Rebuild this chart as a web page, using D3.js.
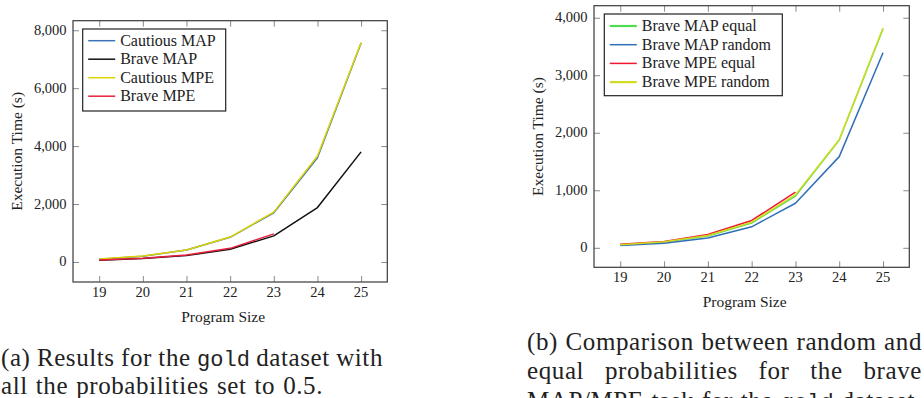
<!DOCTYPE html>
<html>
<head>
<meta charset="utf-8">
<script src="https://cdn.jsdelivr.net/npm/d3@7"></script>
<style>
  html, body { margin: 0; padding: 0; background: #fff; }
  svg { display: block; }
  text { font-family: 'Liberation Serif', 'Times New Roman', serif; fill: #222; }
  .mono { font-family: 'Liberation Mono', 'DejaVu Sans Mono', monospace; }
</style>
</head>
<body>
<div id="app"></div>
<script>
const WIDTH = 924;
const HEIGHT = 398;

// program sizes on the x axis
const sizes = [19, 20, 21, 22, 23, 24, 25];

// (a) gold dataset, all probabilities 0.5
const cautiousMap = [95, 200, 410, 850, 1700, 3600, 7560];
const braveMap = [55, 120, 220, 440, 900, 1880, 3800];
const cautiousMpe = [100, 205, 415, 860, 1720, 3660, 7580];
const braveMpe = [65, 130, 240, 470, 970];
const ticksA = [0, 2000, 4000, 6000, 8000];

// (b) random vs equal probabilities, brave tasks
const braveMapEqual = [50, 100, 205, 430, 900, 1875, 3810];
const braveMapRandom = [40, 80, 170, 365, 775, 1585, 3390];
const braveMpeEqual = [60, 110, 230, 475, 967];
const braveMpeRandom = [55, 105, 215, 445, 920, 1880, 3820];
const ticksB = [0, 1000, 2000, 3000, 4000];

const TICK_LEN = 6;
const fmt = d3.format(',');

const svg = d3.select('#app')
  .append('svg')
  .attr('width', WIDTH)
  .attr('height', HEIGHT);

function drawPanel(p) {
  const g = svg.append('g');
  const x = d3.scaleLinear().domain([18.4, 25.6]).range([p.left, p.right]);
  const y = d3.scaleLinear().domain(p.yDomain).range([p.bottom, p.top]);

  // ticks inside the box, on all four sides
  const axes = [
    d3.axisBottom(x).tickValues(sizes).tickSizeInner(-TICK_LEN).tickSizeOuter(0).tickFormat(''),
    d3.axisTop(x).tickValues(sizes).tickSizeInner(-TICK_LEN).tickSizeOuter(0).tickFormat(''),
    d3.axisLeft(y).tickValues(p.ticks).tickSizeInner(-TICK_LEN).tickSizeOuter(0).tickFormat(''),
    d3.axisRight(y).tickValues(p.ticks).tickSizeInner(-TICK_LEN).tickSizeOuter(0).tickFormat('')
  ];
  const offsets = [[0, p.bottom], [0, p.top], [p.left, 0], [p.right, 0]];
  axes.forEach((a, i) => {
    const ag = g.append('g')
      .attr('transform', `translate(${offsets[i][0]},${offsets[i][1]})`)
      .call(a);
    ag.select('.domain').remove();
    ag.selectAll('line').attr('stroke', '#8a8a8a').attr('stroke-width', 1);
  });

  // tick labels
  g.selectAll('.xl').data(sizes).enter().append('text')
    .attr('x', d => x(d))
    .attr('y', p.bottom + 15)
    .attr('text-anchor', 'middle')
    .attr('font-size', 14.5)
    .text(d => d);

  g.selectAll('.yl').data(p.ticks).enter().append('text')
    .attr('x', p.left - 6.5)
    .attr('y', d => y(d) + 4.5)
    .attr('text-anchor', 'end')
    .attr('font-size', 14.5)
    .text(d => fmt(d));

  // lines
  const line = d3.line()
    .x((d, i) => x(sizes[i]))
    .y(d => y(d));

  p.series.forEach(s => {
    g.append('path')
      .datum(s.values)
      .attr('fill', 'none')
      .attr('stroke', s.color)
      .attr('stroke-width', 1.5)
      .attr('stroke-linejoin', 'round')
      .attr('d', line);
  });

  // frame
  g.append('rect')
    .attr('x', p.left)
    .attr('y', p.top)
    .attr('width', p.right - p.left)
    .attr('height', p.bottom - p.top)
    .attr('fill', 'none')
    .attr('stroke', '#3a3a3a')
    .attr('stroke-width', 1.2);

  // axis labels
  g.append('text')
    .attr('x', (p.left + p.right) / 2 - 7)
    .attr('y', p.bottom + 40)
    .attr('text-anchor', 'middle')
    .attr('font-size', 15.5)
    .text('Program Size');

  g.append('text')
    .attr('transform', `translate(${p.yLabelX},${(p.top + p.bottom) / 2}) rotate(-90)`)
    .attr('text-anchor', 'middle')
    .attr('font-size', 15.5)
    .text('Execution Time (s)');

  // legend
  const lg = g.append('g');
  lg.append('rect')
    .attr('x', p.legend.x0)
    .attr('y', p.legend.y0)
    .attr('width', p.legend.x1 - p.legend.x0)
    .attr('height', p.legend.y1 - p.legend.y0)
    .attr('fill', '#fff')
    .attr('stroke', '#222')
    .attr('stroke-width', 1.2);

  p.series.forEach((s, i) => {
    const ly = p.legend.y0 + p.legend.first + i * p.legend.step;
    lg.append('line')
      .attr('x1', p.legend.x0 + 5.5)
      .attr('x2', p.legend.x0 + 32.5)
      .attr('y1', ly)
      .attr('y2', ly)
      .attr('stroke', s.color)
      .attr('stroke-width', s.legendWidth || 1.5);
    lg.append('text')
      .attr('x', p.legend.x0 + 37.5)
      .attr('y', ly + 5)
      .attr('font-size', 16)
      .text(s.name);
  });
}

drawPanel({
  left: 73, right: 387.3, top: 20.7, bottom: 282,
  yDomain: [-692, 8330],
  ticks: ticksA,
  yLabelX: 22,
  legend: { x0: 82.7, x1: 225.7, y0: 29, y1: 111, first: 11.7, step: 18.5 },
  series: [
    { name: 'Cautious MAP', values: cautiousMap, color: '#3b73b9' },
    { name: 'Brave MAP', values: braveMap, color: '#111111' },
    { name: 'Cautious MPE', values: cautiousMpe, color: '#dcd400' },
    { name: 'Brave MPE', values: braveMpe, color: '#ea1f3d' }
  ]
});

drawPanel({
  left: 594, right: 909.3, top: 5.7, bottom: 267.3,
  yDomain: [-339, 4209],
  ticks: ticksB,
  yLabelX: 543,
  legend: { x0: 604.3, x1: 782.3, y0: 14, y1: 95.7, first: 12, step: 18.7 },
  series: [
    { name: 'Brave MAP equal', values: braveMapEqual, color: '#4fdc4f', legendWidth: 2.2 },
    { name: 'Brave MAP random', values: braveMapRandom, color: '#2f6fb8' },
    { name: 'Brave MPE equal', values: braveMpeEqual, color: '#f01830' },
    { name: 'Brave MPE random', values: braveMpeRandom, color: '#cfdc20', legendWidth: 2.2 }
  ]
});

// captions, justified word by word
const CAP_SIZE = 25;
function captionLine(words, x0, x1, y, justify) {
  const g = svg.append('g');
  const nodes = words.map(w => g.append('text')
    .attr('class', w.mono ? 'mono' : null)
    .attr('font-size', w.mono ? 22 : CAP_SIZE)
    .attr('letter-spacing', w.mono ? 0 : 0.6)
    .attr('y', y)
    .text(w.t));
  const widths = nodes.map(n => n.node().getComputedTextLength());
  const total = d3.sum(widths);
  const gap = justify && nodes.length > 1 ? (x1 - x0 - total) / (nodes.length - 1) : 8;
  let cx = x0;
  nodes.forEach((n, i) => {
    n.attr('x', cx);
    cx += widths[i] + gap;
  });
}
function words(str) {
  return str.split(' ').map(t => t.startsWith('`') ? { t: t.slice(1), mono: true } : { t });
}

captionLine(words('(a) Results for the `gold dataset with'), 1, 383, 366, true);
captionLine(words('all the probabilities set to 0.5.'), 1, 383, 394, false);

captionLine(words('(b) Comparison between random and'), 527, 922, 350, true);
captionLine(words('equal probabilities for the brave'), 527, 922, 379, true);
captionLine(words('MAP/MPE task for the `gold dataset.'), 527, 922, 409, true);
</script>
</body>
</html>
